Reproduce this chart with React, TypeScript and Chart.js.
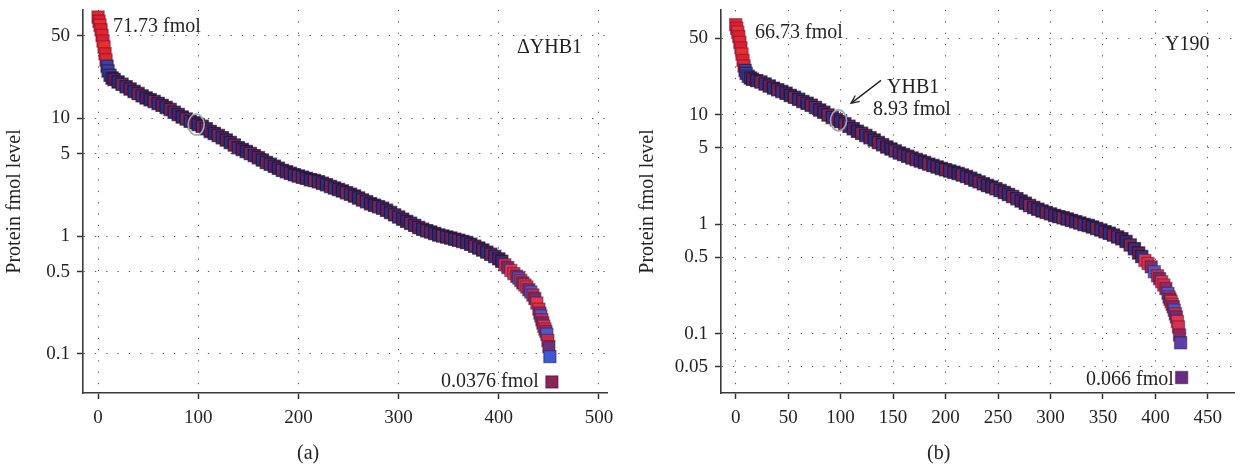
import React, { useEffect, useRef } from "react";
import { Chart, registerables } from "chart.js";

Chart.register(...registerables);

const FONT = '"Liberation Serif", "Times New Roman", Times, serif';
const INK = "#231f20";

// ---------- Panel (a): ΔYHB1 ----------
const ranksA = [
  0, 1, 2, 3, 4, 5, 6, 7, 8, 9, 10, 12, 14, 16,
  20, 24, 28, 32, 36, 40, 44, 48, 52, 56, 60, 64, 68, 72, 76, 80, 84, 88, 92, 96,
  100, 104, 108, 112, 116, 120, 124, 128, 132, 136, 140, 144, 148, 152, 156, 160,
  164, 168, 172, 176, 180, 184, 188, 192, 196, 200, 204, 208, 212, 216, 220, 224,
  228, 232, 236, 240, 244, 248, 252, 256, 260, 264, 268, 272, 276, 280, 284, 288,
  292, 296, 300, 304, 308, 312, 316, 320, 324, 328, 332, 336, 340, 344, 348, 352,
  356, 360, 364, 368, 372, 376, 380, 384, 388, 392, 396, 400,
  403, 406, 409, 412, 415, 418,
  420, 422, 424, 426, 428, 430, 432, 434, 436, 438, 440,
  441, 442, 443, 444, 445, 446, 447, 448, 449, 450, 451,
  453,
];
const valuesA = [
  71.73, 66, 61, 56, 50, 45, 40, 35, 31, 27.5, 25, 23, 21.8, 21.2,
  20.2, 19.3, 18.4, 17.6, 16.8, 16.1, 15.4, 14.8, 14.3, 13.8, 13.3, 12.8, 12.3, 11.8, 11.2, 10.7, 10.2, 9.8, 9.4, 9.1,
  8.8, 8.5, 8.1, 7.7, 7.4, 7.1, 6.8, 6.5, 6.2, 5.9, 5.6, 5.4, 5.2, 5.0, 4.8, 4.6,
  4.4, 4.2, 4.05, 3.9, 3.75, 3.6, 3.5, 3.4, 3.3, 3.22, 3.15, 3.08, 3.0, 2.95, 2.88, 2.8,
  2.72, 2.63, 2.55, 2.48, 2.41, 2.33, 2.26, 2.18, 2.1, 2.02, 1.95, 1.88, 1.82, 1.77, 1.72, 1.65,
  1.58, 1.51, 1.45, 1.39, 1.33, 1.28, 1.23, 1.18, 1.14, 1.11, 1.08, 1.05, 1.02, 1.0, 0.98, 0.96,
  0.94, 0.92, 0.9, 0.88, 0.85, 0.82, 0.79, 0.76, 0.73, 0.7, 0.67, 0.64,
  0.61, 0.57, 0.54, 0.51, 0.48, 0.455,
  0.44, 0.42, 0.4, 0.385, 0.37, 0.35, 0.335, 0.316, 0.295, 0.27, 0.24,
  0.222, 0.21, 0.195, 0.183, 0.172, 0.163, 0.155, 0.147, 0.13, 0.115, 0.095,
  0.058,
];
const xTicksA = [0, 100, 200, 300, 400, 500];
const yTicksA = [0.1, 0.5, 1, 5, 10, 50];
const highlightA = { rank: 98, value: 8.8 };

// ---------- Panel (b): Y190 ----------
const ranksB = [
  0, 1, 2, 3, 4, 5, 6, 7, 8, 9, 10, 12, 14, 16,
  20, 24, 28, 32, 36, 40, 44, 48, 52, 56, 60, 64, 68, 72, 76, 80, 84, 88, 92, 96,
  100, 104, 108, 112, 116, 120, 124, 128, 132, 136, 140, 144, 148, 152, 156, 160,
  164, 168, 172, 176, 180, 184, 188, 192, 196, 200, 204, 208, 212, 216, 220, 224,
  228, 232, 236, 240, 244, 248, 252, 256, 260, 264, 268, 272, 276, 280, 284, 288,
  292, 296, 300, 304, 308, 312, 316, 320, 324, 328, 332, 336, 340, 344, 348, 352,
  356, 360, 364, 368, 372, 376, 380, 384,
  387, 390, 393, 396, 399, 402, 404, 406, 408, 410, 412,
  413, 414, 415, 416, 417, 418, 419, 420, 421, 422, 423, 424,
  425,
];
const valuesB = [
  66.73, 62, 57, 52, 46, 41, 36, 31.5, 28, 25.5, 24, 22.6, 21.8, 21.2,
  20.6, 20.0, 19.2, 18.4, 17.6, 17.0, 16.4, 15.8, 15.1, 14.5, 13.9, 13.3, 12.8, 12.3, 11.7, 11.1, 10.6, 10.0, 9.5, 9.05,
  8.7, 8.3, 7.9, 7.5, 7.1, 6.8, 6.5, 6.2, 5.9, 5.6, 5.35, 5.1, 4.9, 4.7, 4.5, 4.35,
  4.2, 4.05, 3.92, 3.8, 3.68, 3.56, 3.45, 3.35, 3.25, 3.16, 3.08, 3.0, 2.92, 2.83, 2.74, 2.64,
  2.54, 2.45, 2.36, 2.27, 2.2, 2.12, 2.04, 1.96, 1.88, 1.8, 1.72, 1.64, 1.56, 1.49, 1.43, 1.38,
  1.33, 1.29, 1.25, 1.21, 1.18, 1.15, 1.12, 1.09, 1.06, 1.03, 1.0, 0.98, 0.95, 0.92, 0.89, 0.86,
  0.83, 0.8, 0.77, 0.74, 0.7, 0.65, 0.6, 0.55,
  0.51, 0.47, 0.44, 0.41, 0.37, 0.34, 0.32, 0.3, 0.28, 0.26, 0.235,
  0.218, 0.208, 0.198, 0.187, 0.177, 0.165, 0.153, 0.143, 0.13, 0.116, 0.098, 0.083,
  0.04,
];
const xTicksB = [0, 50, 100, 150, 200, 250, 300, 350, 400, 450];
const yTicksB = [0.05, 0.1, 0.5, 1, 5, 10, 50];
const highlightB = { rank: 98, value: 8.93 };

// ---------- styles ----------
const HEAD = ["#e2262f", "#d62234", "#e8302f", "#d9232e"];
const BODY = ["#3b2d80", "#6a1f50", "#2f307c", "#7a2149", "#42307f", "#5a1f58", "#34296e", "#7a284f"];
const TAIL = ["#d7304a", "#8e2a5e", "#4a5acb", "#c72c45", "#6e2f74", "#e0364e"];

type TextItem = { text: string; x: number; y: number };
type PanelDef = {
  left: number;
  ranks: number[];
  values: number[];
  xTicks: number[];
  yTicks: number[];
  xMin: number;
  xMax: number;
  yMin: number;
  yMax: number;
  yAxisWidth: number;
  rightPad: number;
  titlePad: number;
  tailBelow: number;
  lastColor: string;
  loneColor: string;
  highlight: { rank: number; value: number };
  texts: TextItem[];
  arrow: boolean;
};

const panels: PanelDef[] = [
  {
    left: 0,
    ranks: ranksA,
    values: valuesA,
    xTicks: xTicksA,
    yTicks: yTicksA,
    xMin: -15,
    xMax: 508,
    yMin: 0.04671,
    yMax: 82.3,
    yAxisWidth: 83,
    rightPad: 15,
    titlePad: 2.5,
    tailBelow: 0.6,
    lastColor: "#3d5ad4",
    loneColor: "#8a2556",
    highlight: highlightA,
    texts: [
      { text: "71.73 fmol", x: 113, y: 32 },
      { text: "\u0394YHB1", x: 517, y: 53 },
      { text: "0.0376 fmol", x: 441, y: 387 },
      { text: "(a)", x: 297, y: 459 },
    ],
    arrow: false,
  },
  {
    left: 622,
    ranks: ranksB,
    values: valuesB,
    xTicks: xTicksB,
    yTicks: yTicksB,
    xMin: -14,
    xMax: 475,
    yMin: 0.02891,
    yMax: 90.97,
    yAxisWidth: 99,
    rightPad: 0,
    titlePad: 14,
    tailBelow: 0.5,
    lastColor: "#5a40a8",
    loneColor: "#6a2c80",
    highlight: highlightB,
    texts: [
      { text: "66.73 fmol", x: 133, y: 38 },
      { text: "Y190", x: 543, y: 50 },
      { text: "YHB1", x: 265, y: 93 },
      { text: "8.93 fmol", x: 251, y: 115 },
      { text: "0.066 fmol", x: 464, y: 385 },
      { text: "(b)", x: 305, y: 459 },
    ],
    arrow: true,
  },
];

function colorFor(def: PanelDef, i: number, border: boolean): string {
  const n = def.values.length;
  const v = def.values[i];
  if (i === n - 1) return border ? "rgba(60,20,60,0.5)" : def.loneColor;
  if (i === n - 2) return border ? "rgba(30,30,90,0.5)" : def.lastColor;
  if (i < 9) return border ? "rgba(130,20,50,0.55)" : HEAD[i % HEAD.length];
  if (i < 12) return border ? "rgba(30,20,70,0.6)" : "#3f3f9e";
  if (v < def.tailBelow) return border ? "rgba(70,20,60,0.45)" : TAIL[i % TAIL.length];
  return border ? "rgba(28,12,48,0.65)" : BODY[i % BODY.length];
}

function annotationPlugin(def: PanelDef) {
  return {
    id: "panelAnnotations",
    afterDatasetsDraw(chart: any) {
      const { ctx, scales } = chart;
      const cx = scales.x.getPixelForValue(def.highlight.rank);
      const cy = scales.y.getPixelForValue(def.highlight.value);
      ctx.save();
      ctx.strokeStyle = "#a4a9b2";
      ctx.lineWidth = 1.6;
      ctx.beginPath();
      ctx.ellipse(cx, cy, 8, 10.5, 0, 0, Math.PI * 2);
      ctx.stroke();

      if (def.arrow) {
        const x1 = cx + 42.5, y1 = cy - 40;
        const x2 = cx + 12.5, y2 = cy - 17;
        ctx.strokeStyle = "#222";
        ctx.lineWidth = 1.3;
        ctx.beginPath();
        ctx.moveTo(x1, y1);
        ctx.lineTo(x2, y2);
        const ang = Math.atan2(y1 - y2, x1 - x2);
        const hl = 9;
        ctx.moveTo(x2 + hl * Math.cos(ang + 0.42), y2 + hl * Math.sin(ang + 0.42));
        ctx.lineTo(x2, y2);
        ctx.lineTo(x2 + hl * Math.cos(ang - 0.42), y2 + hl * Math.sin(ang - 0.42));
        ctx.stroke();
      }

      ctx.fillStyle = INK;
      ctx.font = `20px ${FONT}`;
      ctx.textAlign = "left";
      ctx.textBaseline = "alphabetic";
      for (const t of def.texts) ctx.fillText(t.text, t.x, t.y);
      ctx.restore();
    },
  };
}

function Panel({ def }: { def: PanelDef }) {
  const ref = useRef<HTMLCanvasElement | null>(null);
  useEffect(() => {
    if (!ref.current) return;
    const points = def.ranks.map((r, i) => ({ x: r, y: def.values[i] }));
    const gridCommon = {
      color: "#555555",
      lineWidth: 1,
      drawTicks: true,
      tickLength: 6,
      tickColor: "#333333",
      tickWidth: 1.5,
      tickBorderDash: [],
    };
    const borderCommon = { display: true, color: "#3a3a3a", width: 1.6, dash: [1.3, 10] };
    const chart = new Chart(ref.current, {
      type: "scatter",
      data: {
        datasets: [
          {
            data: points,
            pointStyle: "rect",
            pointRadius: 8.6,
            pointHoverRadius: 8.6,
            borderWidth: 1.3,
            backgroundColor: (c: any) => colorFor(def, c.dataIndex ?? 0, false),
            borderColor: (c: any) => colorFor(def, c.dataIndex ?? 0, true),
          } as any,
        ],
      },
      options: {
        animation: false,
        responsive: false,
        events: [],
        layout: { padding: { left: 0, top: 10, right: def.rightPad, bottom: 0 } },
        plugins: { legend: { display: false }, tooltip: { enabled: false } },
        scales: {
          x: {
            type: "linear",
            min: def.xMin,
            max: def.xMax,
            afterBuildTicks: (s: any) => {
              s.ticks = def.xTicks.map((v) => ({ value: v }));
            },
            afterFit: (s: any) => {
              s.height = 71;
              s.paddingLeft = 0;
              s.paddingRight = 0;
            },
            ticks: {
              autoSkip: false,
              maxRotation: 0,
              padding: 8,
              color: INK,
              font: { family: FONT, size: 19 },
              callback: (v: any) => String(v),
            },
            grid: gridCommon,
            border: borderCommon,
          },
          y: {
            type: "logarithmic",
            min: def.yMin,
            max: def.yMax,
            afterBuildTicks: (s: any) => {
              s.ticks = def.yTicks.map((v) => ({ value: v }));
            },
            afterFit: (s: any) => {
              s.width = def.yAxisWidth;
              s.paddingTop = 0;
              s.paddingBottom = 0;
            },
            ticks: {
              autoSkip: false,
              padding: 7,
              color: INK,
              font: { family: FONT, size: 19 },
              callback: (v: any) => String(v),
            },
            title: {
              display: true,
              text: "Protein fmol level",
              color: INK,
              font: { family: FONT, size: 20 },
              padding: { top: def.titlePad, bottom: 0 },
            },
            grid: gridCommon,
            border: borderCommon,
          },
        },
      } as any,
      plugins: [annotationPlugin(def) as any],
    });
    return () => chart.destroy();
  }, [def]);
  return (
    <canvas
      ref={ref}
      width={622}
      height={464}
      style={{ position: "absolute", left: def.left, top: 0, width: 622, height: 464 }}
    />
  );
}

export default function App() {
  return (
    <div style={{ position: "absolute", left: 0, top: 0, width: 1244, height: 464, background: "#fff" }}>
      {panels.map((p, i) => (
        <Panel key={i} def={p} />
      ))}
    </div>
  );
}
